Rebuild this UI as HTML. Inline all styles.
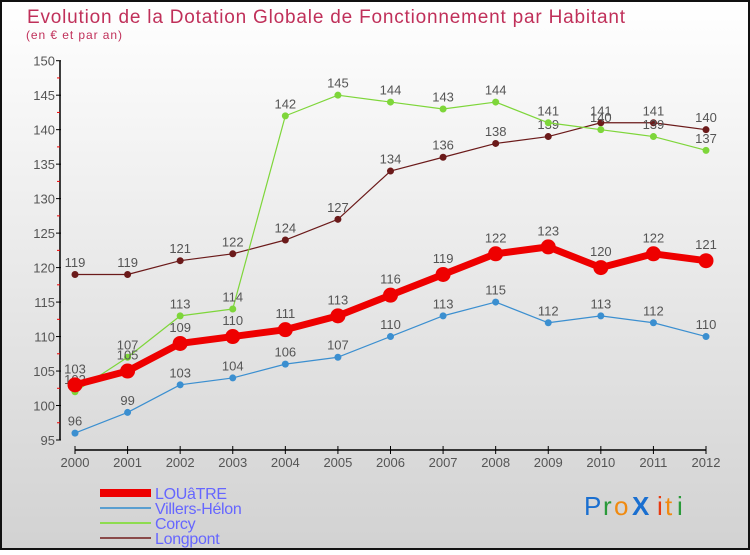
<!DOCTYPE html>
<html><head><meta charset="utf-8"><style>
body{margin:0}
#c{width:750px;height:550px;position:relative;font-family:"Liberation Sans",sans-serif;}
</style></head><body>
<div id="c">
<svg id="s" width="750" height="550" xmlns="http://www.w3.org/2000/svg">
<defs><linearGradient id="bg" x1="0" y1="0" x2="0" y2="1"><stop offset="0" stop-color="#ffffff"/><stop offset="1" stop-color="#d2d2d2"/></linearGradient></defs>
<rect x="1" y="1" width="748" height="548" fill="url(#bg)" stroke="#111" stroke-width="2"/>
<text x="27" y="23" font-size="19" fill="#c0305a" textLength="598" lengthAdjust="spacing">Evolution de la Dotation Globale de Fonctionnement par Habitant</text>
<text x="26" y="39" font-size="12" fill="#c0305a" textLength="96" lengthAdjust="spacing">(en € et par an)</text>
<g id="axes"></g><g id="series"></g><g id="legend"></g>
<g font-size="26" font-family="Liberation Sans, sans-serif">
<text x="584" y="515" fill="#1a6fd0">P</text><text x="603" y="515" fill="#2a9a3a">r</text><text x="614" y="515" fill="#f08a10">o</text><text x="632" y="515" fill="#1a6fd0" font-weight="bold">X</text><text x="657" y="515" fill="#e83a10">i</text><text x="665" y="515" fill="#f08a10">t</text><text x="677" y="515" fill="#2a9a3a">i</text>
</g>
</svg>
</div>
<script>
const years=[2000,2001,2002,2003,2004,2005,2006,2007,2008,2009,2010,2011,2012];
const louatre=[103,105,109,110,111,113,116,119,122,123,120,122,121];
const villers=[96,99,103,104,106,107,110,113,115,112,113,112,110];
const corcy=[102,107,113,114,142,145,144,143,144,141,140,139,137];
const longpont=[119,119,121,122,124,127,134,136,138,139,141,141,140];
const yTicks=[95,100,105,110,115,120,125,130,135,140,145,150];
const NS="http://www.w3.org/2000/svg";
const X=i=>75+i*(706-75)/(years.length-1);
const Y=v=>440-(v-95)*(440-60.7)/55;
function mk(tag,at,parent){const e=document.createElementNS(NS,tag);for(const k in at)e.setAttribute(k,at[k]);parent.appendChild(e);return e;}
const ax=document.getElementById('axes');
let l=mk('line',{x1:60,y1:Y(150),x2:60,y2:Y(95),stroke:'#000','stroke-width':1.5},ax);


yTicks.forEach(v=>{
 mk('line',{x1:56,y1:Y(v),x2:61,y2:Y(v),stroke:'#000'},ax);
 if(v<150)mk('line',{x1:57,y1:Y(v+2.5),x2:60,y2:Y(v+2.5),stroke:'#e00'},ax);
 const t=mk('text',{x:55,y:Y(v)+5,'font-size':13,fill:'#555','text-anchor':'end'},ax);t.textContent=v;
 
 
});
l=mk('line',{x1:X(0),y1:450,x2:X(12),y2:450,stroke:'#000','stroke-width':1.5},ax);


years.forEach((y,i)=>{
 mk('line',{x1:X(i),y1:446,x2:X(i),y2:454,stroke:'#000'},ax);
 const t=mk('text',{x:X(i),y:467,'font-size':13,fill:'#555','text-anchor':'middle'},ax);t.textContent=y;
 
 
});
const sg=document.getElementById('series');
function draw(vals,color,w,r,name){
 const g=mk('g',{},sg);
 
 
 mk('polyline',{points:vals.map((v,i)=>X(i)+','+Y(v)).join(' '),fill:'none',stroke:color,'stroke-width':w,'stroke-linejoin':'round'},g);
 vals.forEach((v,i)=>{
  const c=mk('circle',{cx:X(i),cy:Y(v),r:r,fill:color},g);
  
  
  const t=mk('text',{x:X(i),y:Y(v)-r-4,'font-size':13,fill:'#555','text-anchor':'middle'},g);t.textContent=v;
  
  
 });
}
draw(longpont,'#6b1a1a',1.2,3.5,'longpont');
draw(corcy,'#7ed63a',1.2,3.5,'corcy');
draw(villers,'#3b8fd0',1.2,3.5,'villers-helon');
draw(louatre,'#ee0000',7,7.5,'louatre');
const lg=document.getElementById('legend');
[['LOUâTRE','#ee0000',8],['Villers-Hélon','#5a9fd0',2],['Corcy','#8edc50',2],['Longpont','#8a4a4a',2]].forEach((d,i)=>{
 const y=493+i*15;
 const g=mk('g',{},lg);
 
 
 mk('line',{x1:100,y1:y,x2:151,y2:y,stroke:d[1],'stroke-width':d[2]},g);
 const t=mk('text',{x:155,y:y+6,'font-size':16,fill:'#6666ff','letter-spacing':'-0.3'},g);t.textContent=d[0];
});
</script>
</body></html>
